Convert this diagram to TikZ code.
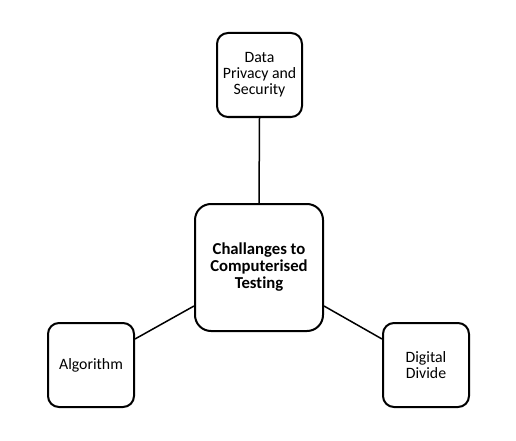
\documentclass[tikz,border=0pt]{standalone}
\usepackage{fontspec}
\setmainfont{Carlito}[Ligatures=NoCommon]
\begin{document}
\begin{tikzpicture}[x=1pt,y=-1pt,
  box/.style={draw=black, line width=2pt, rounded corners=11pt, fill=white, inner sep=0pt, align=center,
    font=\fontsize{15.8}{16}\selectfont},
  bigbox/.style={box, rounded corners=16pt, font=\fontsize{16.7}{17}\selectfont\bfseries},
  link/.style={draw=black, line width=1.5pt}]
\useasboundingbox (0,0) rectangle (516,441);
\fill[white] (0,0) rectangle (516,441);
\node[bigbox, minimum width=128pt, minimum height=127pt] (c) at (259,267.5) {Challanges to\\Computerised\\Testing};
\node[box, minimum width=85pt, minimum height=84pt] (t) at (259.5,75) {Data\\Privacy and\\Security};
\node[box, minimum width=86pt, minimum height=84pt] (l) at (91,365) {Algorithm};
\node[box, minimum width=86pt, minimum height=84pt] (r) at (426,365) {Digital\\Divide};
\draw[link] (t.south) -- (c.north);
\draw[link] ([yshift=-17pt]l.north east) -- ([yshift=26pt]c.south west);
\draw[link] ([yshift=26pt]c.south east) -- ([yshift=-17pt]r.north west);
\end{tikzpicture}
\end{document}
